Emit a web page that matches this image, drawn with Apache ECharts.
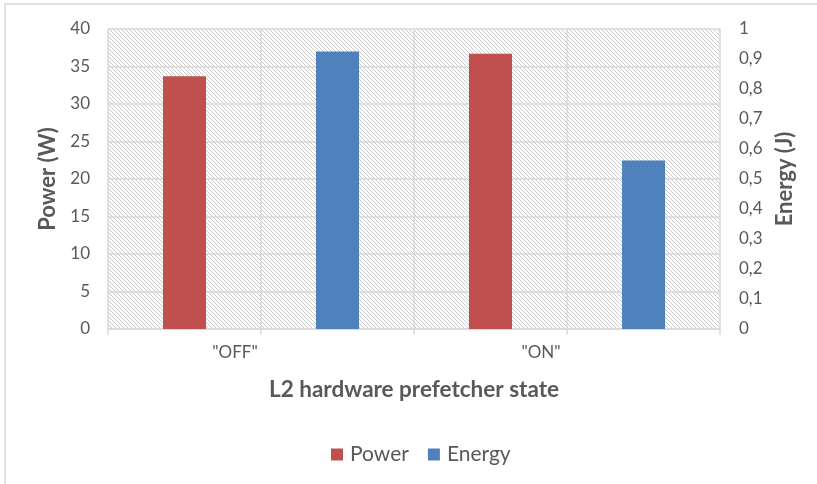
<!DOCTYPE html>
<html>
<head>
<meta charset="utf-8">
<script src="https://cdn.jsdelivr.net/npm/echarts@6/dist/echarts.min.js"></script>
<style>
html,body{margin:0;padding:0;background:#fff;}
#chart{width:817px;height:484px;}
</style>
</head>
<body>
<div id="chart"></div>
<script>
// Data
var states = ['"OFF"', '"ON"'];
var seriesNames = ['Power', 'Energy'];
var powerW = [33.7, 36.7];
var energyJ = [0.925, 0.562];
var powerTicks = [0, 5, 10, 15, 20, 25, 30, 35, 40];
var energyTicks = ['0', '0,1', '0,2', '0,3', '0,4', '0,5', '0,6', '0,7', '0,8', '0,9', '1'];

// Each state uses two slots: one for Power, one for Energy
var slots = [];
var powerData = [];
var energyData = [];
states.forEach(function (s, i) {
  slots.push(s); slots.push(s + ' ');
  powerData.push(powerW[i]); powerData.push(null);
  energyData.push(null); energyData.push(energyJ[i]);
});

var hatch = document.createElement('canvas');
hatch.width = 4; hatch.height = 4;
var hc = hatch.getContext('2d');
hc.fillStyle = '#ffffff'; hc.fillRect(0, 0, 4, 4);
hc.fillStyle = '#cbcbcb';
for (var i = 0; i < 4; i++) { hc.fillRect(i, i, 1, 1); }

var font = 'Lato';
var txt = '#595959';
var grid = '#d9d9d9';

var chart = echarts.init(document.getElementById('chart'), null, {renderer: 'canvas'});
chart.setOption({
  animation: false,
  textStyle: {fontFamily: font},
  graphic: [{
    type: 'rect', silent: true, z: -10,
    shape: {x: 5, y: 4, width: 1000, height: 1000},
    style: {fill: 'none', stroke: grid, lineWidth: 1.5}
  }],
  grid: {
    left: 108, right: 97, top: 29, bottom: 155,
    show: true, borderWidth: 0,
    backgroundColor: {image: hatch, repeat: 'repeat'}
  },
  legend: {
    left: 326, top: 439,
    itemWidth: 12, itemHeight: 12, itemGap: 19,
    icon: 'rect',
    textStyle: {fontFamily: font, fontSize: 21, color: txt, padding: [0, 0, 0, 2]},
    data: seriesNames
  },
  xAxis: {
    type: 'category',
    data: slots,
    boundaryGap: true,
    name: 'L2 hardware prefetcher state',
    nameLocation: 'middle',
    nameGap: 49,
    nameTextStyle: {fontFamily: font, fontSize: 22.5, fontWeight: 'bold', color: txt},
    axisLine: {lineStyle: {color: grid, width: 1.5}},
    axisTick: {show: true, length: 6, interval: 0, lineStyle: {color: grid, width: 1.5}},
    splitLine: {show: true, interval: 0, lineStyle: {color: grid, width: 1.5}},
    axisLabel: {
      interval: 0, margin: 15, fontSize: 17, color: txt, fontFamily: font,
      padding: [0, 0, 0, 101],
      formatter: function (v, idx) { return idx % 2 === 0 ? v : ''; }
    }
  },
  yAxis: [{
    type: 'value', min: 0, max: 40, interval: 5,
    name: 'Power (W)', nameLocation: 'middle', nameGap: 48, nameRotate: 90,
    nameTextStyle: {fontFamily: font, fontSize: 22, fontWeight: 'bold', color: txt},
    axisLine: {show: false}, axisTick: {show: false},
    splitLine: {lineStyle: {color: grid, width: 1.5}},
    axisLabel: {margin: 18, fontSize: 17, color: txt, fontFamily: font,
      formatter: function (v) { return String(v); }}
  }, {
    type: 'value', min: 0, max: 1, interval: 0.1,
    name: 'Energy (J)', nameLocation: 'middle', nameGap: 50, nameRotate: 90,
    nameTextStyle: {fontFamily: font, fontSize: 22, fontWeight: 'bold', color: txt},
    axisLine: {show: false}, axisTick: {show: false},
    splitLine: {show: false},
    axisLabel: {margin: 19, fontSize: 17, color: txt, fontFamily: font, align: 'left',
      formatter: function (v) { return energyTicks[Math.round(v * 10)]; }}
  }],
  series: [{
    name: 'Power', type: 'bar', yAxisIndex: 0,
    data: powerData, barWidth: 43, barGap: '-100%',
    itemStyle: {color: '#C0504D'}
  }, {
    name: 'Energy', type: 'bar', yAxisIndex: 1,
    data: energyData, barWidth: 43, barGap: '-100%',
    itemStyle: {color: '#4F81BD'}
  }]
});
</script>
</body>
</html>
